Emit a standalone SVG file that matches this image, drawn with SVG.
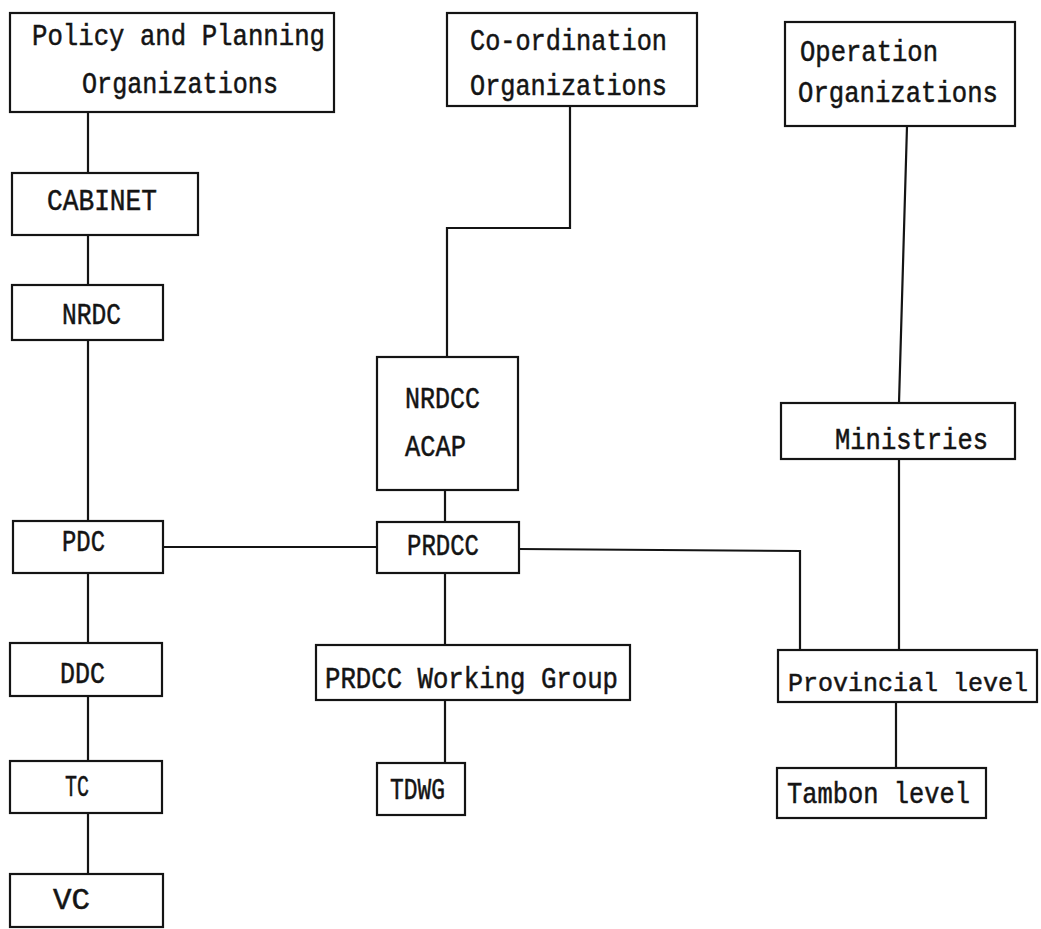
<svg xmlns="http://www.w3.org/2000/svg" width="1041" height="929" viewBox="0 0 1041 929">
<style>
.box{fill:none;stroke:#141414;stroke-width:2.2}
.ln{fill:none;stroke:#141414;stroke-width:2.2}
text{font-family:"Liberation Mono","Courier New",monospace;font-size:29px;fill:#141414;stroke:#141414;stroke-width:0.5}
</style>
<rect width="1041" height="929" fill="#ffffff"/>
<g id="connectors">
<path class="ln" d="M88 112V173M88 235V285M88 340V521M88 573V643M88 696V761M88 813V874"/>
<path class="ln" d="M163 547H377"/>
<path class="ln" d="M570 106V228H447V357"/>
<path class="ln" d="M445 490V522M445 573V645M445 700V763"/>
<path class="ln" d="M519 549L800 551V650"/>
<path class="ln" d="M907 126L899 403M899 459V650M896 702V768"/>
</g>
<g id="policy">
<rect class="box" x="10" y="13" width="324" height="99"/>
<text x="32" y="45" textLength="293" lengthAdjust="spacingAndGlyphs">Policy and Planning</text>
<text x="82" y="93" textLength="196" lengthAdjust="spacingAndGlyphs">Organizations</text>
</g>
<g id="coordination">
<rect class="box" x="447" y="13" width="250" height="93"/>
<text x="470" y="50" textLength="197" lengthAdjust="spacingAndGlyphs">Co-ordination</text>
<text x="470" y="95" textLength="197" lengthAdjust="spacingAndGlyphs">Organizations</text>
</g>
<g id="operation">
<rect class="box" x="785" y="22" width="230" height="104"/>
<text x="800" y="61" textLength="138" lengthAdjust="spacingAndGlyphs">Operation</text>
<text x="798" y="102" textLength="200" lengthAdjust="spacingAndGlyphs">Organizations</text>
</g>
<g id="cabinet">
<rect class="box" x="12" y="173" width="186" height="62"/>
<text x="47" y="210" textLength="110" lengthAdjust="spacingAndGlyphs">CABINET</text>
</g>
<g id="nrdc">
<rect class="box" x="12" y="285" width="151" height="55"/>
<text x="62" y="324" textLength="59" lengthAdjust="spacingAndGlyphs">NRDC</text>
</g>
<g id="pdc">
<rect class="box" x="13" y="521" width="150" height="52"/>
<text x="62" y="551" textLength="43" lengthAdjust="spacingAndGlyphs">PDC</text>
</g>
<g id="ddc">
<rect class="box" x="10" y="643" width="152" height="53"/>
<text x="60" y="683" textLength="45" lengthAdjust="spacingAndGlyphs">DDC</text>
</g>
<g id="tc">
<rect class="box" x="10" y="761" width="152" height="52"/>
<text x="65" y="796" textLength="24" lengthAdjust="spacingAndGlyphs">TC</text>
</g>
<g id="vc">
<rect class="box" x="10" y="874" width="153" height="53"/>
<text x="53" y="909" textLength="37" lengthAdjust="spacingAndGlyphs">VC</text>
</g>
<g id="nrdcc">
<rect class="box" x="377" y="357" width="141" height="133"/>
<text x="405" y="408" textLength="75" lengthAdjust="spacingAndGlyphs">NRDCC</text>
<text x="405" y="456" textLength="61" lengthAdjust="spacingAndGlyphs">ACAP</text>
</g>
<g id="prdcc">
<rect class="box" x="377" y="522" width="142" height="51"/>
<text x="407" y="555" textLength="72" lengthAdjust="spacingAndGlyphs">PRDCC</text>
</g>
<g id="working-group">
<rect class="box" x="316" y="645" width="314" height="55"/>
<text x="325" y="688" textLength="293" lengthAdjust="spacingAndGlyphs">PRDCC Working Group</text>
</g>
<g id="tdwg">
<rect class="box" x="377" y="763" width="88" height="52"/>
<text x="390" y="799" textLength="55" lengthAdjust="spacingAndGlyphs">TDWG</text>
</g>
<g id="ministries">
<rect class="box" x="781" y="403" width="234" height="56"/>
<text x="835" y="449" textLength="153" lengthAdjust="spacingAndGlyphs">Ministries</text>
</g>
<g id="provincial">
<rect class="box" x="778" y="650" width="259" height="52"/>
<text x="788" y="691" style="font-size:25.5px" textLength="240" lengthAdjust="spacingAndGlyphs">Provincial level</text>
</g>
<g id="tambon">
<rect class="box" x="777" y="768" width="209" height="50"/>
<text x="787" y="803" textLength="183" lengthAdjust="spacingAndGlyphs">Tambon level</text>
</g>
</svg>
